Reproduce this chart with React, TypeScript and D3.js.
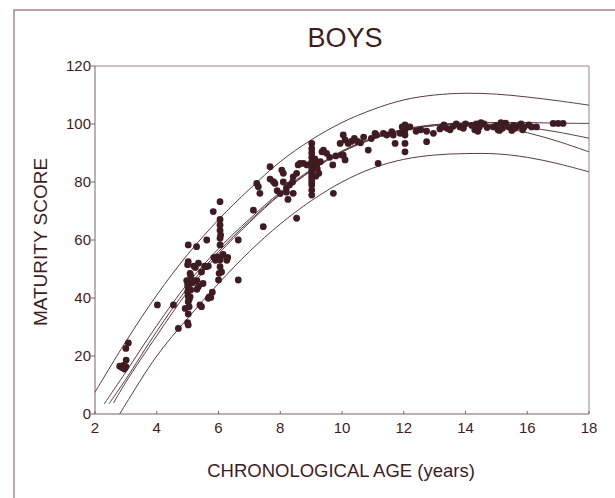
import React from 'react';
import * as d3 from 'd3';

// age (years) of each sample point on the fitted curves
const upperAges = [2, 3, 4, 5, 6, 7, 8, 9, 10, 11, 12, 13, 14, 15, 16, 17, 18];
const upperScores = [7.5, 25, 41, 55, 67, 77.5, 87, 94.5, 100.5, 105, 108.3, 110, 110.6, 110.3, 109.3, 108, 106.5];

const lowerAges = [2.8, 3, 4, 5, 6, 7, 8, 9, 10, 11, 12, 13, 14, 15, 16, 17, 18];
const lowerScores = [0, 3.5, 20, 33, 45, 56, 65.5, 73.5, 80, 84.8, 87.8, 89.3, 89.8, 89.7, 88.5, 86.3, 83.5];

const fitAAges = [2.3, 3, 4, 5, 6, 7, 8, 9, 10, 11, 12, 13, 14, 15, 16, 17, 18];
const fitAScores = [3.5, 14.5, 30.5, 45, 57, 67.2, 76.5, 84.3, 90.7, 95.2, 98.2, 99.8, 100.4, 100.5, 100.5, 100.3, 100.2];

const fitBAges = [2.45, 3, 4, 5, 6, 7, 8, 9, 10, 11, 12, 13, 14, 15, 16, 17, 18];
const fitBScores = [3.5, 12, 28.5, 43.5, 56, 66.5, 76, 84, 90.5, 95, 98, 99.6, 100.2, 99.8, 98.8, 97.2, 95.1];

const fitCAges = [2.6, 3, 4, 5, 6, 7, 8, 9, 10, 11, 12, 13, 14, 15, 16, 17, 18];
const fitCScores = [3.8, 11, 27, 42.2, 55.2, 66, 75.7, 83.8, 90.3, 94.8, 97.8, 99.4, 99.8, 99, 97, 94, 90.4];

// observed boys
const boyAges = [
  2.8, 2.87, 2.92, 2.95, 3.0, 3.01, 3.0, 3.08,
  4.02, 4.54, 4.7,
  4.97, 5.0, 5.02, 5.0, 5.02, 5.02, 5.05, 5.08, 5.02, 5.02, 5.0, 5.02, 5.02, 5.0, 5.08, 5.1, 5.15, 5.2, 5.2,
  5.25, 5.3, 5.35, 5.29, 5.4, 5.5, 5.45, 5.55, 5.6, 5.62, 5.7, 5.75, 5.83, 5.9, 5.85, 5.95, 4.92, 5.05, 5.1,
  5.35, 5.67, 5.45, 5.67, 5.3, 5.8,
  6.0, 6.02, 6.05, 6.05, 6.07, 6.05, 6.05, 6.07, 6.05, 6.05, 6.05, 6.05, 6.27, 6.3, 6.15, 6.64, 6.64, 6.1,
  7.13, 7.45, 7.24, 7.29, 7.34, 7.67, 7.67,
  7.78, 7.83, 7.9, 8.0, 8.05, 8.1, 8.1, 8.2, 8.25, 8.3, 8.4, 8.42, 8.42, 8.53, 8.58, 8.75, 8.86, 8.53, 8.2, 8.64,
  9.02, 9.02, 9.02, 9.02, 9.02, 9.02, 9.02, 9.02, 9.02, 9.02, 9.02, 9.02, 9.02, 9.02, 9.02,
  9.12, 9.15, 9.2, 9.25, 9.3, 9.35, 9.5, 9.4, 9.6, 9.7, 9.8, 9.72, 9.15, 9.2,
  9.94, 10.04, 10.1, 10.2, 10.04, 10.1, 9.99, 10.3, 10.4, 10.5, 10.6, 10.85, 10.7,
  11.07, 11.12, 11.34, 11.45, 11.61, 11.66, 11.72, 11.88, 11.17, 10.95,
  12.04, 12.04, 12.04, 12.04, 12.04, 12.1, 12.2, 12.0, 12.4, 12.55, 12.74, 12.74, 12.96, 11.95,
  13.17, 13.25, 13.4, 13.5, 13.6, 13.7, 13.82, 13.93, 14.0, 13.3,
  14.3, 14.35, 14.4, 14.45, 14.5, 14.6, 14.7, 14.9, 15.0, 15.05, 15.1, 15.2, 15.3, 15.4, 15.5, 15.55,
  15.6, 15.7, 15.8, 15.9, 16.05, 16.14, 16.3, 16.84, 17.0, 17.16, 14.2, 15.15, 15.85,
];
const boyScores = [
  16.5, 16, 16.8, 15.5, 16.3, 18.6, 22.6, 24.5,
  37.6, 37.6, 29.5,
  46, 44.5, 43, 42, 40.5, 38.7, 39.5, 40.4, 34.5, 30.7, 31.5, 58.3, 52.5, 51.5, 48.5, 47.5, 45.2, 46, 51,
  50.5, 43, 44, 57.7, 37.6, 45, 49, 51, 50.8, 60, 40.4, 40.2, 69.8, 53, 54, 54.2, 36.4, 37, 42.8,
  52, 51, 37, 39.9, 46, 42,
  46.2, 48.5, 50.8, 53.1, 54.2, 58.3, 60.6, 61.7, 63.4, 65.2, 67.1, 73.2, 53, 54, 55, 60, 46.2, 49,
  70.3, 64.6, 79.5, 78.4, 76.1, 85.3, 81,
  80.1, 79.5, 77, 76, 84.1, 83, 80, 78, 74, 79, 80, 76.1, 81.8, 83, 85.9, 86.4, 85.9, 67.5, 76.5, 86.4,
  93.3, 91.5, 90, 88.5, 87, 86, 85, 84, 83, 82, 81, 80, 79, 77.2, 75.5,
  88, 85, 86.5, 83, 87, 90.4, 89.9, 91, 88.5, 85.9, 89, 76.1, 82, 84.5,
  93.3, 96.2, 94.5, 93.3, 89.3, 87.6, 89.3, 94, 95, 94, 93.5, 91, 95.5,
  96.8, 96.2, 96.8, 96.2, 97.4, 96.2, 93.3, 96.8, 86.4, 95,
  99.7, 97.9, 96.2, 93.3, 90.4, 99, 99, 98.5, 97.5, 98, 97.5, 93.9, 96.8, 99,
  98.3, 99, 98.5, 98, 99.2, 100, 99, 98.5, 100, 99.7,
  98, 100, 97.5, 99, 100.5, 100, 98.8, 99, 99.5, 98, 97.8, 98.5, 100.3, 99, 97.8, 99.5,
  98.5, 99.2, 100, 99, 99.7, 99, 99, 100.2, 100.2, 100.2, 99.5, 100.5, 98,
];

const xTicks = [2, 4, 6, 8, 10, 12, 14, 16, 18];
const yTicks = [0, 20, 40, 60, 80, 100, 120];

const W = 615;
const H = 498;
const left = 95, right = 589, top = 66, bottom = 414;

const ink = '#3e1c22';
const lineInk = '#5b3a40';
const font = '"Liberation Sans", Arial, Helvetica, sans-serif';

const x = d3.scaleLinear().domain([2, 18]).range([left, right]);
const y = d3.scaleLinear().domain([0, 120]).range([bottom, top]);

const curve = d3.line<[number, number]>()
  .x(d => x(d[0]))
  .y(d => y(d[1]))
  .curve(d3.curveCatmullRom.alpha(0.5));

const zip = (a: number[], b: number[]) => a.map((v, i) => [v, b[i]] as [number, number]);

const curves = [
  zip(upperAges, upperScores),
  zip(lowerAges, lowerScores),
  zip(fitAAges, fitAScores),
  zip(fitBAges, fitBScores),
  zip(fitCAges, fitCScores),
];

export default function App() {
  return (
    <svg width={W} height={H} style={{ position: 'absolute', left: 0, top: 0, background: '#fff' }}>
      {/* scanned page frame */}
      <rect x={14} y={10} width={W} height={H} fill="none" stroke="#8a6a70" strokeWidth={1.2} />

      <text x={345} y={47} textAnchor="middle" fontFamily={font} fontSize={27} fill={ink}>BOYS</text>

      {/* plot box */}
      <line x1={left} x2={right} y1={top} y2={top} stroke="#9c8088" strokeWidth={1} />
      <line x1={right} x2={right} y1={top} y2={bottom} stroke="#9c8088" strokeWidth={1} />
      <line x1={left} x2={right} y1={bottom} y2={bottom} stroke="#7d6068" strokeWidth={1} />
      <line x1={left} x2={left} y1={top} y2={bottom} stroke="#7d6068" strokeWidth={1} />

      {yTicks.map(t => (
        <g key={'y' + t}>
          <line x1={left - 4} x2={left} y1={y(t)} y2={y(t)} stroke="#7d6068" />
          <text x={left - 4} y={y(t) + 5} textAnchor="end" fontFamily={font} fontSize={15} fill={ink}>{t}</text>
        </g>
      ))}
      {xTicks.map(t => (
        <g key={'x' + t}>
          <line x1={x(t)} x2={x(t)} y1={bottom} y2={bottom - 3} stroke="#7d6068" />
          <text x={x(t)} y={bottom + 19} textAnchor="middle" fontFamily={font} fontSize={15} fill={ink}>{t}</text>
        </g>
      ))}

      {curves.map((c, i) => (
        <path key={'c' + i} d={curve(c) || ''} fill="none" stroke={lineInk} strokeWidth={1} />
      ))}

      {boyAges.map((a, i) => (
        <circle key={'p' + i} cx={x(a)} cy={y(boyScores[i])} r={3.4} fill={ink} />
      ))}

      <text x={341} y={477} textAnchor="middle" fontFamily={font} fontSize={18.5} fill={ink}>CHRONOLOGICAL AGE (years)</text>
      <text transform={`translate(47,${(top + bottom) / 2 + 2}) rotate(-90)`} textAnchor="middle" fontFamily={font} fontSize={19} fill={ink}>MATURITY SCORE</text>
    </svg>
  );
}
